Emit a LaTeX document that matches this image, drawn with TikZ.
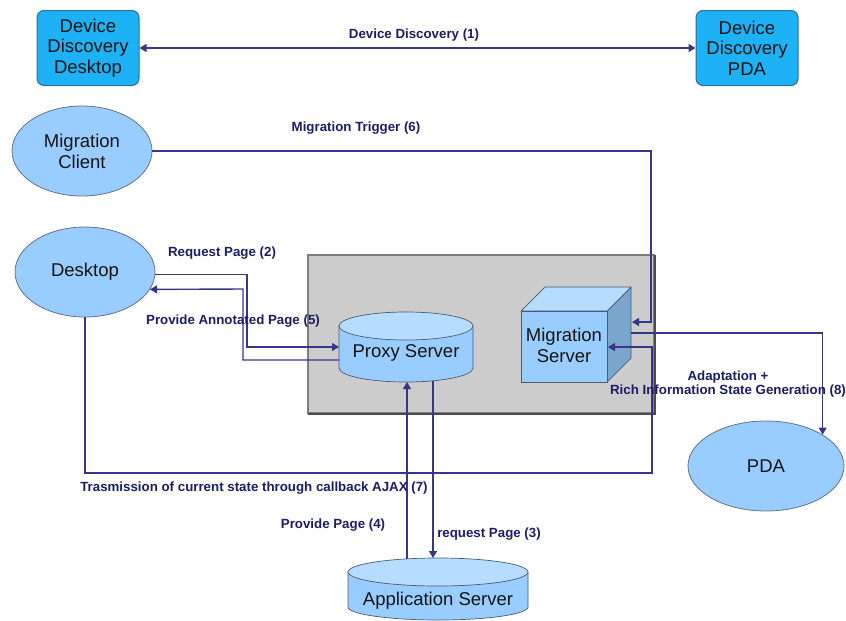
\documentclass[tikz,border=0pt]{standalone}
\usepackage{fontspec}
\setmainfont{Liberation Sans}
\usetikzlibrary{arrows.meta,shapes.geometric}

\definecolor{linkblue}{RGB}{55,55,135}
\definecolor{lblblue}{RGB}{28,28,105}
\definecolor{nodeblue}{RGB}{153,204,255}
\definecolor{nodetop}{RGB}{182,220,255}
\definecolor{nodeside}{RGB}{122,166,206}
\definecolor{nodeedge}{RGB}{95,115,140}
\definecolor{ddfill}{RGB}{28,178,245}
\definecolor{ddedge}{RGB}{40,110,165}
\definecolor{panelfill}{RGB}{204,204,204}
\definecolor{paneledge}{RGB}{125,125,125}
\definecolor{inktext}{RGB}{20,20,20}

\begin{document}
\begin{tikzpicture}[x=1pt,y=-1pt,
  ddbox/.style={draw=ddedge,line width=1pt,fill=ddfill,rounded corners=7pt,
    minimum width=102pt,minimum height=75pt,align=center,inner sep=0pt,
    text=inktext,font=\fontsize{18.5}{20.5}\selectfont},
  oval/.style={ellipse,draw=nodeedge,line width=0.8pt,fill=nodeblue,align=center,
    inner sep=0pt,text=inktext,font=\fontsize{18.5}{21}\selectfont},
  plain/.style={align=center,inner sep=0pt,text=inktext,font=\fontsize{18.5}{21}\selectfont},
  lbl/.style={text=lblblue,font=\bfseries\fontsize{13.3}{14.5}\selectfont,inner sep=0pt},
  link/.style={draw=linkblue,line width=1.4pt},
  tip/.style={-{Triangle[length=7pt,width=8pt]}},
  solid3d/.style={draw=nodeedge!80!black,line width=0.7pt,line join=round},
]
\useasboundingbox (0,0) rectangle (846,621);

% server panel
\node[draw=paneledge,fill=panelfill,line width=1.2pt,minimum width=346pt,
  minimum height=158pt,inner sep=0pt] (panel) at (481,334) {};
\draw[gray!60!black,line width=1.4pt] (308,414) -- (655,414) -- (655,255);

% discovery boxes
\node[ddbox] (ddd) at (88,48) {Device\\Discovery\\Desktop};
\node[ddbox] (ddp) at (747,48) {Device\\Discovery\\PDA};

% client devices
\node[oval,minimum width=140pt,minimum height=90pt] (mc) at (82,151) {Migration\\Client};
\node[oval,minimum width=140pt,minimum height=90pt] (desk) at (85,272) {Desktop};
\node[oval,minimum width=156pt,minimum height=90pt] (pda) at (766,466) {PDA};

% proxy server cylinder
\path[fill=nodeblue] (339,326) -- (339,368)
  arc[start angle=180,end angle=360,x radius=67pt,y radius=14pt] -- (473,326) -- cycle;
\draw[solid3d] (339,326) -- (339,368)
  arc[start angle=180,end angle=360,x radius=67pt,y radius=14pt] -- (473,326);
\draw[solid3d,fill=nodetop] (406,326) ellipse[x radius=67pt,y radius=14pt];
\node[plain] (proxy) at (406,353) {Proxy Server};

% application server cylinder
\path[fill=nodeblue] (348,572) -- (348,607)
  arc[start angle=180,end angle=360,x radius=90pt,y radius=13pt] -- (528,572) -- cycle;
\draw[solid3d] (348,572) -- (348,607)
  arc[start angle=180,end angle=360,x radius=90pt,y radius=13pt] -- (528,572);
\draw[solid3d,fill=nodetop] (438,572) ellipse[x radius=90pt,y radius=14pt];
\node[plain] (app) at (438,601) {Application Server};

% migration server cube
\draw[solid3d,fill=nodeside] (607,311) -- (631,287) -- (631,358) -- (607,382) -- cycle;
\draw[solid3d,fill=nodetop] (521,311) -- (545,287) -- (631,287) -- (607,311) -- cycle;
\draw[solid3d,fill=nodeblue] (521,311) rectangle (607,382);
\node[plain] (migsrv) at (564,345) {Migration\\Server};

% connector end points on the drawn solids
\coordinate (trigIn) at (632,322);
\coordinate (frontIn) at (608,347);
\coordinate (sideOut) at (631,333);
\coordinate (proxyInL) at (339,347);
\coordinate (proxyOutL) at (339,360);
\coordinate (proxyInB) at (407,382);
\coordinate (proxyOutB) at (433,381);
\coordinate (appOut) at (407,559);
\coordinate (appIn) at (433,558);

% connectors
\draw[link,{Triangle[length=7pt,width=8pt]}-{Triangle[length=7pt,width=8pt]}] (ddd.east) -- (ddp.west);
\draw[link,tip] (mc.east) -| (651,322) -- (trigIn);
\draw[link,tip] (desk.-2) -| (247,347) -- (proxyInL);
\draw[link,tip] (proxyOutL) -| (243,289) -- (desk.-15);
\draw[link,tip] (desk.south) -- (85,473) -| (652,347) -- (frontIn);
\draw[link,tip] (sideOut) -| (pda.29);
\draw[link,tip] (appOut) -- (proxyInB);
\draw[link,tip] (proxyOutB) -- (appIn);

% labels
\node[lbl] (l1) at (414,35) {Device Discovery (1)};
\node[lbl] (l6) at (356,128) {Migration Trigger (6)};
\node[lbl] (l2) at (222,253) {Request Page (2)};
\node[lbl] (l5) at (233,321) {Provide Annotated Page (5)};
\node[lbl] (l7) at (254,488) {Trasmission of current state through callback AJAX (7)};
\node[lbl] (l4) at (333,525) {Provide Page (4)};
\node[lbl] (l3) at (489,534) {request Page (3)};
\node[lbl,align=center] (l8) at (728,384) {Adaptation +\\Rich Information State Generation (8)};
\end{tikzpicture}
\end{document}
